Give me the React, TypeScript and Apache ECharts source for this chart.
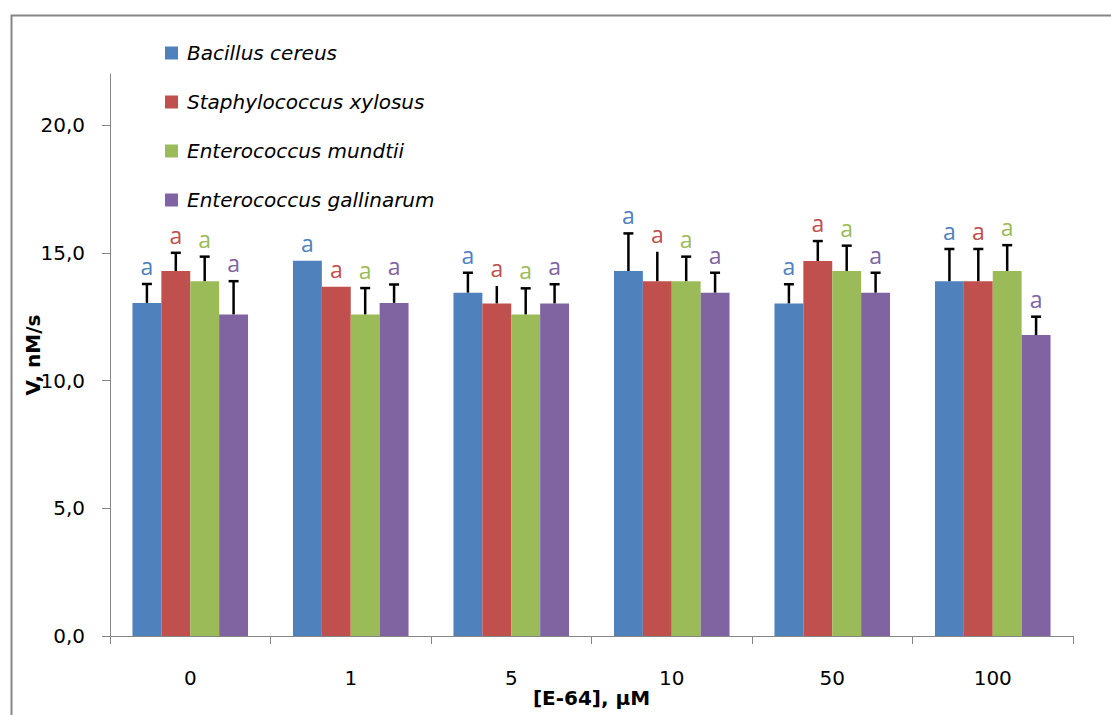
import React, { useEffect, useRef } from "react";
import * as echarts from "echarts";

const categories = ["0", "1", "5", "10", "50", "100"];
const seriesNames = [
  "Bacillus cereus",
  "Staphylococcus xylosus",
  "Enterococcus mundtii",
  "Enterococcus gallinarum",
];
const colors = ["#4F81BD", "#C0504D", "#9BBB59", "#8064A2"];

const bacillusValues = [13.04, 14.69, 13.44, 14.29, 13.02, 13.89];
const staphValues = [14.29, 13.67, 13.02, 13.89, 14.68, 13.89];
const mundtiiValues = [13.89, 12.59, 12.59, 13.89, 14.29, 14.29];
const gallinarumValues = [12.59, 13.04, 13.02, 13.44, 13.44, 11.78];

const bacillusErr = [0.74, null, 0.78, 1.47, 0.75, 1.26];
const staphErr = [0.71, null, 0.68, 1.15, 0.78, 1.26];
const mundtiiErr = [0.96, 1.03, 1.02, 0.96, 0.99, 1.01];
const gallinarumErr = [1.3, 0.72, 0.75, 0.78, 0.78, 0.72];

const bacillusCap = [true, true, true, true, true, true];
const staphCap = [true, true, false, false, true, true];
const mundtiiCap = [true, true, true, true, true, true];
const gallinarumCap = [true, true, true, true, true, true];

const significance = ["a", "a", "a", "a", "a", "a"];

const yTicks = [0, 5, 10, 15, 20];

const allValues = [bacillusValues, staphValues, mundtiiValues, gallinarumValues];
const allErr = [bacillusErr, staphErr, mundtiiErr, gallinarumErr];
const allCaps = [bacillusCap, staphCap, mundtiiCap, gallinarumCap];

const FONT = "'DejaVu Sans', sans-serif";
const LABEL_FONT = "'Open Sans', sans-serif";
const CAT_GAP = 0.28;

export default function App() {
  const ref = useRef<HTMLDivElement>(null);

  useEffect(() => {
    if (!ref.current) return;
    const chart = echarts.init(ref.current, null, { renderer: "svg" });

    const barSeries = seriesNames.map((name, i) => ({
      name,
      type: "bar",
      data: allValues[i],
      barGap: "0%",
      barCategoryGap: CAT_GAP * 100 + "%",
      itemStyle: { color: colors[i] },
      z: 2,
    }));

    const errSeries = seriesNames.map((_, i) => ({
      type: "custom",
      silent: true,
      z: 3,
      encode: { x: 0, y: 1 },
      data: allValues[i].map((v, k) => [k, v, allErr[i][k], allCaps[i][k] ? 1 : 0]),
      renderItem: (params: any, api: any) => {
        const k = api.value(0);
        const v = api.value(1);
        const e = api.value(2);
        const cap = api.value(3);
        const catW = api.size([1, 0])[0];
        const barW = (catW * (1 - CAT_GAP)) / 4;
        const base = api.coord([k, v]);
        const x = base[0] + (i - 1.5) * barW;
        const yBar = base[1];
        const hasErr = e !== null && e !== undefined && !isNaN(e) && e > 0;
        const yTop = hasErr ? api.coord([k, v + e])[1] : yBar;
        const children: any[] = [];
        if (hasErr) {
          children.push({
            type: "line",
            shape: { x1: x, y1: yBar, x2: x, y2: yTop },
            style: { stroke: "#000", lineWidth: 2.5 },
          });
          if (cap) {
            children.push({
              type: "line",
              shape: { x1: x - 5, y1: yTop, x2: x + 5, y2: yTop },
              style: { stroke: "#000", lineWidth: 2.5 },
            });
          }
        }
        children.push({
          type: "text",
          style: {
            x: x,
            y: yTop - 18,
            text: significance[k],
            fill: colors[i],
            font: "23px " + LABEL_FONT,
            textAlign: "center",
            textVerticalAlign: "middle",
          },
        });
        return { type: "group", children };
      },
    }));

    chart.setOption({
      animation: false,
      backgroundColor: "#fff",
      graphic: [
        {
          type: "rect",
          left: 9,
          top: 13,
          silent: true,
          shape: { width: 1300, height: 900 },
          style: { fill: "none", stroke: "#868686", lineWidth: 2 },
          z: -1,
        },
      ],
      legend: {
        data: seriesNames,
        orient: "vertical",
        left: 165,
        top: 43,
        padding: 0,
        itemWidth: 13,
        itemHeight: 13,
        itemGap: 29,
        icon: "rect",
        textStyle: {
          fontFamily: FONT,
          fontSize: 20,
          fontStyle: "italic",
          color: "#000",
          lineHeight: 20,
          padding: [0, 0, 0, 4],
        },
      },
      grid: { left: 110, right: 38, top: 74, bottom: 79, containLabel: false },
      xAxis: {
        type: "category",
        data: categories,
        name: "[E-64], µM",
        nameLocation: "middle",
        nameGap: 52,
        nameMoveOverlap: false,
        nameTextStyle: { fontFamily: FONT, fontSize: 20, fontWeight: "bold", color: "#000" },
        axisLine: { lineStyle: { color: "#868686", width: 1 } },
        axisTick: { show: true, length: 8, lineStyle: { color: "#868686" } },
        axisLabel: { fontFamily: FONT, fontSize: 20, color: "#000", margin: 32 },
      },
      yAxis: {
        type: "value",
        min: 0,
        max: 22,
        interval: 5,
        name: "V, nM/s",
        nameLocation: "middle",
        nameGap: 67,
        nameMoveOverlap: false,
        nameRotate: 90,
        nameTextStyle: { fontFamily: FONT, fontSize: 20, fontWeight: "bold", color: "#000" },
        splitLine: { show: false },
        axisLine: { show: true, lineStyle: { color: "#868686", width: 1 } },
        axisTick: { show: true, length: 8, lineStyle: { color: "#868686" }, customValues: yTicks },
        axisLabel: {
          fontFamily: FONT,
          fontSize: 20,
          color: "#000",
          margin: 25,
          customValues: yTicks,
          formatter: (v: number) => v.toFixed(1).replace(".", ","),
        },
      },
      series: [...barSeries, ...errSeries],
    });

    return () => chart.dispose();
  }, []);

  return (
    <div
      ref={ref}
      style={{ position: "fixed", left: 0, top: 0, width: 1111, height: 715 }}
    />
  );
}
